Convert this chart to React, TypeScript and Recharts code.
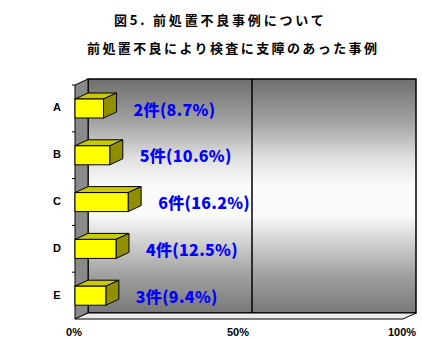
import { BarChart, Bar, XAxis, YAxis, ReferenceArea, ReferenceLine, LabelList } from "recharts";

const categories = ["A", "B", "C", "D", "E"];
const counts = [2, 5, 6, 4, 3];
const percents = [8.7, 10.6, 16.2, 12.5, 9.4];
const xTicks = [0, 50, 100];

const title1 = "図5. 前処置不良事例について";
const title2 = "前処置不良により検査に支障のあった事例";

// depth of the fake 3D look
const DX = 13;
const DY = 6;

const data = categories.map((name, i) => ({ name, pct: percents[i], count: counts[i] }));

const Panel = (props: any) => {
  const { x, y, width, height } = props;
  const n = categories.length;
  const band = height / n;
  return (
    <g>
      <defs>
        <linearGradient id="wallBg" x1="0" y1="0" x2="0" y2="1">
          <stop offset="0" stopColor="#6e6e6e" />
          <stop offset="0.2" stopColor="#a8a8a8" />
          <stop offset="0.34" stopColor="#e0e0e0" />
          <stop offset="0.45" stopColor="#fafafa" />
          <stop offset="0.58" stopColor="#fafafa" />
          <stop offset="0.7" stopColor="#d0d0d0" />
          <stop offset="0.84" stopColor="#a0a0a0" />
          <stop offset="1" stopColor="#787878" />
        </linearGradient>
      </defs>
      <rect x={x} y={y} width={width} height={height} fill="url(#wallBg)" stroke="#000" strokeWidth={1.5} />
      <polygon
        points={`${x - DX},${y + DY} ${x},${y} ${x},${y + height} ${x - DX},${y + height + DY}`}
        fill="#8a8a8a"
        stroke="#000"
        strokeWidth={1}
      />
      {Array.from({ length: n }, (_, i) => (
        <line key={i} x1={x - DX - 3} x2={x - DX} y1={y + DY + band * i} y2={y + DY + band * i} stroke="#000" />
      ))}
      <polygon
        points={`${x - DX},${y + height + DY} ${x},${y + height} ${x + width},${y + height} ${x + width - DX},${y + height + DY}`}
        fill="#ececec"
        stroke="#000"
        strokeWidth={1}
      />
    </g>
  );
};

const Box = (props: any) => {
  const { x, y, width, height } = props;
  if (!width) return null;
  const fx = x - DX;
  const fy = y + DY;
  return (
    <g stroke="#000" strokeWidth={1}>
      <polygon points={`${fx},${fy} ${x},${y} ${x + width},${y} ${fx + width},${fy}`} fill="#c9c900" />
      <polygon
        points={`${fx + width},${fy} ${x + width},${y} ${x + width},${y + height} ${fx + width},${fy + height}`}
        fill="#8f8f00"
      />
      <rect x={fx} y={fy} width={width} height={height} fill="#ffff00" />
    </g>
  );
};

const Lbl = (props: any) => {
  const { x, y, width, height, index } = props;
  const i = index ?? 0;
  return (
    <text
      x={x + width + 17}
      y={y + height / 2 + DY}
      dominantBaseline="central"
      fill="#0000ff"
      fontFamily="'Noto Sans CJK JP', sans-serif"
      fontWeight="900"
      fontSize={16}
      letterSpacing={0.3}
    >
      {`${counts[i]}件(${percents[i]}%)`}
    </text>
  );
};

const XTick = (props: any) => {
  const { x, y, payload } = props;
  return (
    <text x={x - 14} y={y + 23} textAnchor="middle" fontFamily="'Liberation Sans', Arial, sans-serif" fontWeight="bold" fontSize={11} fill="#000">
      {`${payload.value}%`}
    </text>
  );
};

const YTick = (props: any) => {
  const { x, y, payload } = props;
  return (
    <text x={x - 31} y={y + DY - 1} textAnchor="middle" dominantBaseline="central" fontFamily="'Liberation Sans', Arial, sans-serif" fontWeight="bold" fontSize={11} fill="#000">
      {payload.value}
    </text>
  );
};

export default function App() {
  const titleStyle = {
    position: "absolute" as const,
    fontFamily: "'Noto Sans CJK JP', sans-serif",
    fontWeight: "bold" as const,
    fontSize: 13,
    lineHeight: "18px",
    whiteSpace: "nowrap" as const,
    color: "#000",
  };
  return (
    <div style={{ position: "absolute", left: 0, top: 0, width: 422, height: 338, background: "#fff", overflow: "hidden" }}>
      <div style={{ ...titleStyle, left: 114, top: 11, letterSpacing: 2.8 }}>{title1}</div>
      <div style={{ ...titleStyle, left: 87, top: 39, letterSpacing: 2.4 }}>{title2}</div>
      <div style={{ position: "absolute", left: 0, top: 0 }}>
        <BarChart layout="vertical" width={422} height={338} data={data} margin={{ top: 79, right: 6, bottom: 5, left: 0 }}>
          <XAxis type="number" domain={[0, 100]} ticks={xTicks} interval={0} axisLine={false} tickLine={false} tickSize={0} tickMargin={0} height={20} tick={<XTick />} />
          <YAxis type="category" dataKey="name" width={88} axisLine={false} tickLine={false} tickSize={0} tickMargin={0} tick={<YTick />} />
          <ReferenceArea x1={0} x2={100} shape={<Panel />} ifOverflow="visible" />
          <ReferenceLine x={50} stroke="#000" strokeWidth={1.5} />
          <Bar dataKey="pct" barSize={19} shape={<Box />} isAnimationActive={false}>
            <LabelList dataKey="pct" content={<Lbl />} />
          </Bar>
        </BarChart>
      </div>
    </div>
  );
}
